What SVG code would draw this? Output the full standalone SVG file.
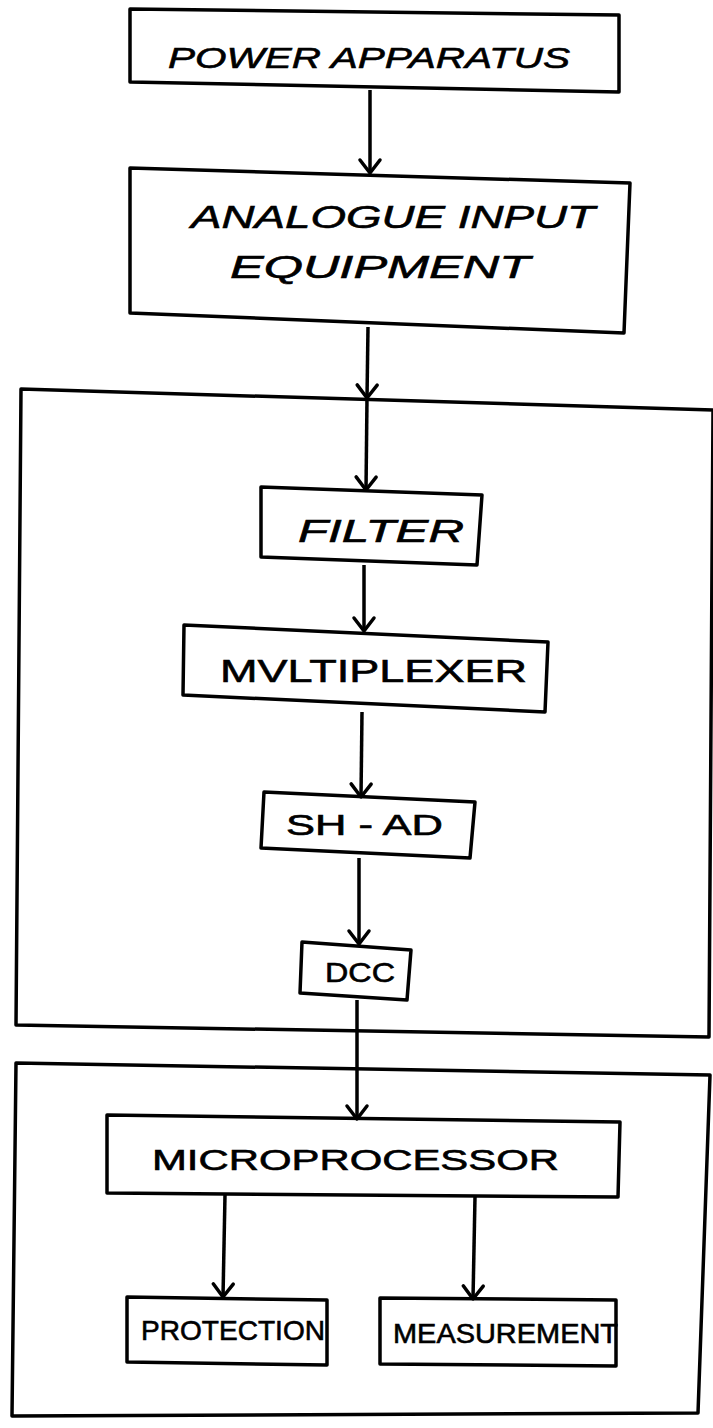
<svg xmlns="http://www.w3.org/2000/svg" width="713" height="1428" viewBox="0 0 713 1428">
<style>
.box{fill:none;stroke:#000;stroke-width:3.5;stroke-linejoin:round}
.frame{fill:none;stroke:#000;stroke-width:3.5;stroke-linejoin:round}
.lbl{font-family:"Liberation Sans",Arial,sans-serif;fill:#000;stroke:#000;stroke-width:0.6;text-anchor:start}
.conn{fill:none;stroke:#000;stroke-width:3.5;marker-end:url(#chev)}
</style>
<defs>
<marker id="chev" markerUnits="userSpaceOnUse" markerWidth="34" markerHeight="34" viewBox="-17 -17 34 34" refX="0" refY="0" orient="auto">
<path d="M-13,-10 L0,0 L-13,10" fill="none" stroke="#000" stroke-width="3.5" stroke-linecap="round" stroke-linejoin="round"/>
</marker>
</defs>
<rect width="713" height="1428" fill="#fff"/>
<g id="frame-acquisition">
<polygon class="frame" points="21,389 713,410 709,1037 16,1025"/>
</g>
<g id="frame-processing">
<polygon class="frame" points="16,1063 710,1075 698,1413 12,1416"/>
</g>
<g id="connectors">
<line class="conn" x1="370" y1="90" x2="370" y2="173"/>
<line class="conn" x1="368" y1="327" x2="367" y2="398"/>
<line class="conn" x1="367" y1="398" x2="366" y2="490"/>
<line class="conn" x1="364" y1="565" x2="364" y2="631"/>
<line class="conn" x1="362" y1="712" x2="361" y2="797"/>
<line class="conn" x1="359" y1="858" x2="359" y2="944"/>
<line class="conn" x1="357" y1="1000" x2="357" y2="1119"/>
<line class="conn" x1="225" y1="1195" x2="223" y2="1297"/>
<line class="conn" x1="475" y1="1197" x2="473" y2="1299"/>
</g>
<g id="power-apparatus">
<polygon class="box" points="130,9 619,15 619,92 130,82"/>
<text class="lbl" x="168" y="68" font-size="30" textLength="402" lengthAdjust="spacingAndGlyphs" font-style="italic">POWER APPARATUS</text>
</g>
<g id="analogue-input">
<polygon class="box" points="130,168 630,183 624,333 130,313"/>
<text class="lbl" x="191" y="228" font-size="32" textLength="404" lengthAdjust="spacingAndGlyphs" font-style="italic">ANALOGUE INPUT</text>
<text class="lbl" x="230" y="278" font-size="32" textLength="300" lengthAdjust="spacingAndGlyphs" font-style="italic">EQUIPMENT</text>
</g>
<g id="filter">
<polygon class="box" points="261,487 482,495 477,565 261,557"/>
<text class="lbl" x="298" y="542" font-size="32" textLength="166" lengthAdjust="spacingAndGlyphs" font-style="italic">FILTER</text>
</g>
<g id="multiplexer">
<polygon class="box" points="184,625 548,642 545,712 183,695"/>
<text class="lbl" x="220" y="682" font-size="32" textLength="307" lengthAdjust="spacingAndGlyphs">MVLTIPLEXER</text>
</g>
<g id="sh-ad">
<polygon class="box" points="264,792 475,802 470,858 261,848"/>
<text class="lbl" x="286" y="835" font-size="29" textLength="157" lengthAdjust="spacingAndGlyphs">SH - AD</text>
</g>
<g id="dcc">
<polygon class="box" points="302,942 411,950 407,1000 300,993"/>
<text class="lbl" x="325" y="982" font-size="28" textLength="70" lengthAdjust="spacingAndGlyphs">DCC</text>
</g>
<g id="microprocessor">
<polygon class="box" points="107,1115 620,1122 618,1197 107,1193"/>
<text class="lbl" x="152" y="1170" font-size="29" textLength="407" lengthAdjust="spacingAndGlyphs">MICROPROCESSOR</text>
</g>
<g id="protection">
<polygon class="box" points="127,1297 327,1300 327,1365 127,1362"/>
<text class="lbl" x="141" y="1340" font-size="28" textLength="184" lengthAdjust="spacingAndGlyphs">PROTECTION</text>
</g>
<g id="measurement">
<polygon class="box" points="380,1298 616,1300 616,1366 380,1364"/>
<text class="lbl" x="393" y="1343" font-size="28" textLength="225" lengthAdjust="spacingAndGlyphs">MEASUREMENT</text>
</g>
</svg>
